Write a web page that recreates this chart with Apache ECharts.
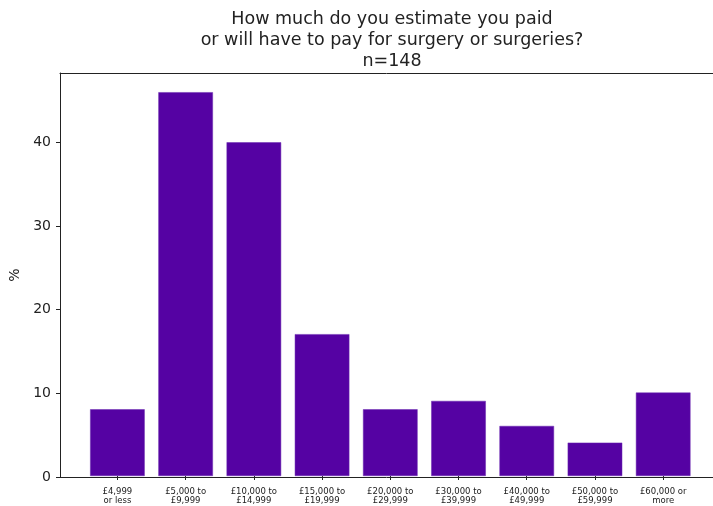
<!DOCTYPE html>
<html>
<head>
<meta charset="utf-8">
<script src="https://cdn.jsdelivr.net/npm/echarts@6/dist/echarts.min.js"></script>
<style>html,body{margin:0;padding:0;background:#fff}#c{width:713px;height:506px}</style>
</head>
<body>
<div id="c"></div>
<script>
const categories = ["£4,999\nor less","£5,000 to\n£9,999","£10,000 to\n£14,999","£15,000 to\n£19,999","£20,000 to\n£29,999","£30,000 to\n£39,999","£40,000 to\n£49,999","£50,000 to\n£59,999","£60,000 or\nmore"];
const percentValues = [8, 46, 40, 17, 8, 9, 6, 4, 10];
const yTicks = [0, 10, 20, 30, 40];
const yMax = 48.3;
const titleText = "How much do you estimate you paid\nor will have to pay for surgery or surgeries?\nn=148";

const FONT = "DejaVu Sans";
const lineCol = '#222';
const chart = echarts.init(document.getElementById('c'), null, {renderer: 'canvas'});
chart.setOption({
  animation: false,
  backgroundColor: '#fff',
  title: {
    text: titleText,
    left: 387, top: 4, textAlign: 'center',
    textStyle: {fontFamily: FONT, fontSize: 17.5, fontWeight: 'normal', color: '#222', lineHeight: 21}
  },
  grid: [
    {left: 60, top: 73, width: 660, height: 404, show: false, containLabel: false},
    {left: 83.3, top: 73, width: 614, height: 404, show: false, containLabel: false}
  ],
  xAxis: [
    {gridIndex: 0, type: 'value', min: 0, max: 1, position: 'bottom',
     axisLine: {show: true, onZero: false, lineStyle: {color: lineCol}},
     axisTick: {show: false}, axisLabel: {show: false}, splitLine: {show: false}},
    {gridIndex: 0, type: 'value', min: 0, max: 1, position: 'top',
     axisLine: {show: true, onZero: false, lineStyle: {color: lineCol}},
     axisTick: {show: false}, axisLabel: {show: false}, splitLine: {show: false}},
    {gridIndex: 1, type: 'category', data: categories, boundaryGap: true,
     axisLine: {show: false},
     axisTick: {show: true, alignWithLabel: true, length: 4, lineStyle: {color: lineCol}},
     axisLabel: {fontFamily: FONT, fontSize: 8.5, color: '#222', lineHeight: 9.5, margin: 11, interval: 0}
    }
  ],
  yAxis: [
    {gridIndex: 0, type: 'value', min: 0, max: yMax, interval: 10,
     name: '%', nameLocation: 'middle', nameGap: 35, nameRotate: 90,
     nameTextStyle: {fontFamily: FONT, fontSize: 14, color: '#222'},
     axisLine: {show: true, lineStyle: {color: lineCol}},
     axisTick: {show: true, length: 4, lineStyle: {color: lineCol}},
     axisLabel: {fontFamily: FONT, fontSize: 14, color: '#222', margin: 9, showMaxLabel: false,
       formatter: v => yTicks.includes(v) ? String(v) : ''},
     splitLine: {show: false}
    },
    {gridIndex: 1, type: 'value', min: 0, max: yMax, show: false, splitLine: {show: false}}
  ],
  series: [{
    type: 'bar', xAxisIndex: 2, yAxisIndex: 1,
    data: percentValues, barWidth: '80%',
    itemStyle: {color: '#5502a3', borderColor: '#6a2ab0', borderWidth: 0.5}
  }]
});
</script>
</body>
</html>
